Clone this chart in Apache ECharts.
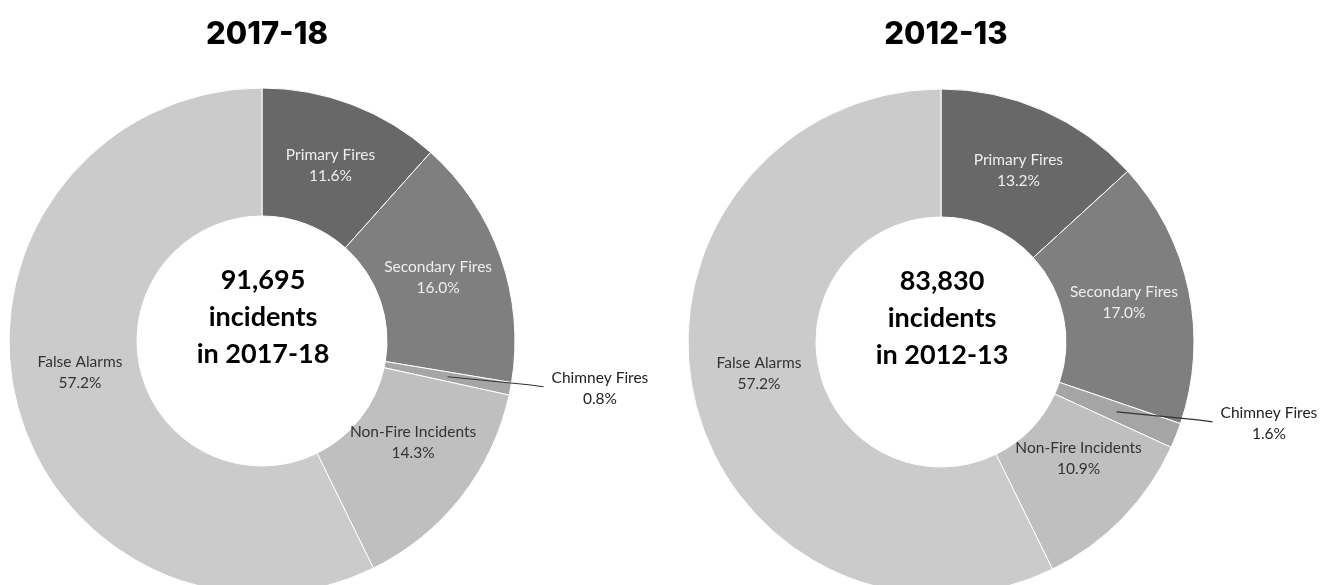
<!DOCTYPE html>
<html>
<head>
<meta charset="utf-8">
<script src="https://cdn.jsdelivr.net/npm/echarts@6/dist/echarts.min.js"></script>
<style>
  html, body { margin: 0; padding: 0; background: #fff; }
  #chart { width: 1323px; height: 585px; }
</style>
</head>
<body>
<div id="chart"></div>
<script>
// data
const categories = ['Primary Fires', 'Secondary Fires', 'Chimney Fires', 'Non-Fire Incidents', 'False Alarms']
const share2017 = [11.6, 16.0, 0.8, 14.3, 57.2]
const share2012 = [13.2, 17.0, 1.6, 10.9, 57.2]
const titles = ['2017-18', '2012-13']
const totals = ['91,695', '83,830']

const sliceColors = ['#686868', '#7f7f7f', '#a5a5a5', '#bfbfbf', '#cbcbcb']
const labelColors = ['#eeeeee', '#eeeeee', '#222222', '#333333', '#333333']
// small nudges so the inside labels sit where Excel put them
const labelNudge = [[0, 4], [-5, 0], [0, 0], [0, -17], [5, -12]]
const labelFont = 'Lato'
const labelSize = 15.5
const outsideName = 'Chimney Fires'

const centers = [[262, 341], [941, 342]]
const radii = [125, 253]

const labelText = {
  show: true,
  fontFamily: labelFont,
  fontSize: labelSize,
  lineHeight: 21,
  formatter: p => '{a|' + p.name + '}\n{a|' + p.value.toFixed(1) + '%}',
  rich: {
    a: { align: 'center', fontFamily: labelFont, fontSize: labelSize, lineHeight: 21 }
  }
}

// leader line for the outside label starts in the middle of its slice
function outsideLayout(params) {
  if (!params.labelLinePoints) return {}
  const c = centers[params.seriesIndex % 2]
  const p = params.labelLinePoints[0]
  const dx = p[0] - c[0]
  const dy = p[1] - c[1]
  const len = Math.sqrt(dx * dx + dy * dy)
  const r = (radii[0] + radii[1]) / 2
  const sx = c[0] + dx / len * r
  const sy = c[1] + dy / len * r
  const ex = sx + 96
  const ey = sy + 10
  return {
    x: ex + 8,
    y: ey + 2,
    align: 'left',
    verticalAlign: 'middle',
    labelLinePoints: [[sx, sy], [ex - 15, ey - 2], [ex, ey]]
  }
}

// the visible donut, with labels inside the slices
function pieSeries(values, idx) {
  return {
    type: 'pie',
    center: centers[idx],
    radius: radii,
    startAngle: 90,
    silent: true,
    avoidLabelOverlap: false,
    itemStyle: { borderColor: '#fff', borderWidth: 1 },
    label: Object.assign({ position: 'inside' }, labelText),
    labelLine: { show: false },
    data: categories.map((name, i) => ({
      name: name,
      value: values[i],
      itemStyle: { color: sliceColors[i] },
      label: name === outsideName
        ? { show: false }
        : { color: labelColors[i], offset: labelNudge[i] }
    }))
  }
}

// an invisible copy on top that only carries the outside label and its line
function overlaySeries(values, idx) {
  return {
    type: 'pie',
    z: 5,
    center: centers[idx],
    radius: radii,
    startAngle: 90,
    silent: true,
    avoidLabelOverlap: false,
    itemStyle: { color: 'rgba(0,0,0,0)', borderWidth: 0 },
    label: Object.assign({ position: 'outside', color: '#222' }, labelText),
    labelLine: { show: true, length: 12, length2: 30, lineStyle: { color: '#333', width: 1.2 } },
    labelLayout: outsideLayout,
    data: categories.map((name, i) => ({
      name: name,
      value: values[i],
      label: { show: name === outsideName },
      labelLine: { show: name === outsideName }
    }))
  }
}

const myChart = echarts.init(document.getElementById('chart'), null, { renderer: 'canvas' })

const option = {
  animation: false,
  title: titles.map((t, i) => ({
    text: t,
    left: centers[i][0],
    top: 14,
    textAlign: 'center',
    textStyle: { fontFamily: 'Inter', fontWeight: 800, fontSize: 31, color: '#000' }
  })).concat(totals.map((n, i) => ({
    text: n + '\nincidents\nin ' + titles[i],
    left: centers[i][0] - 4,
    top: centers[i][1] - 84,
    textAlign: 'center',
    textStyle: {
      fontFamily: 'Lato',
      fontWeight: 'bold',
      fontSize: 27,
      lineHeight: 37,
      color: '#000'
    }
  }))),
  series: [
    pieSeries(share2017, 0),
    pieSeries(share2012, 1),
    overlaySeries(share2017, 0),
    overlaySeries(share2012, 1)
  ]
}

option && myChart.setOption(option)
</script>
</body>
</html>
